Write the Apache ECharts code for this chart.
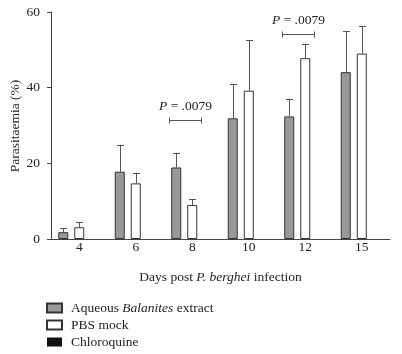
<!DOCTYPE html>
<html>
<head>
<meta charset="utf-8">
<script src="https://cdn.jsdelivr.net/npm/echarts@6/dist/echarts.min.js"></script>
<style>
  html, body { margin: 0; padding: 0; background: #fff; }
  #chart { width: 402px; height: 354px; }
</style>
</head>
<body>
<div id="chart"></div>
<script>
// 数据
var days = ['4', '6', '8', '10', '12', '15']
var extractMean = [1.8, 17.8, 18.9, 31.9, 32.4, 44.1]
var extractErr = [1.0, 7.1, 3.9, 9.0, 4.7, 10.9]
var pbsMean = [3.1, 14.7, 9.0, 39.2, 47.8, 49.0]
var pbsErr = [1.3, 2.8, 1.5, 13.4, 3.8, 7.2]
var chloroquineMean = [0, 0, 0, 0, 0, 0]
var yTicks = [0, 20, 40, 60]
// 显著性标注: [天数下标, 高度, 文字]
var pMarks = [[2, 31.5, '.0079'], [4, 54.2, '.0079']]

var serif = '"Liberation Serif", "DejaVu Serif", serif'
var axisColor = '#444'
var fs = 13.5

// 误差线
function errorSeries(name, mean, err, offset) {
  return {
    name: name + ' err',
    type: 'custom',
    silent: true,
    z: 1,
    renderItem: function (params, api) {
      var top = api.coord([api.value(0), api.value(1) + api.value(2)])
      var base = api.coord([api.value(0), api.value(1)])
      var x = Math.round(top[0] + offset) + 0.5
      var style = { stroke: '#555', lineWidth: 1 }
      return {
        type: 'group',
        children: [
          { type: 'line', shape: { x1: x, y1: base[1], x2: x, y2: top[1] }, style: style },
          { type: 'line', shape: { x1: x - 3.5, y1: Math.round(top[1]) + 0.5, x2: x + 3.5, y2: Math.round(top[1]) + 0.5 }, style: style }
        ]
      }
    },
    data: mean.map(function (m, i) { return [i, m, err[i]] })
  }
}

var chart = echarts.init(document.getElementById('chart'))

chart.setOption({
  animation: false,
  textStyle: { fontFamily: serif },
  grid: { left: 51, right: 12, top: 12, bottom: 115, outerBoundsMode: 'none' },
  // y 轴标题
  graphic: [{
    type: 'text',
    x: 15,
    y: 126,
    rotation: Math.PI / 2,
    style: {
      text: 'Parasitaemia (%)',
      align: 'center',
      verticalAlign: 'middle',
      font: fs + 'px ' + serif,
      fill: '#222'
    }
  }],
  legend: {
    orient: 'vertical',
    left: 46,
    top: 301,
    padding: 0,
    itemWidth: 15,
    itemHeight: 9,
    itemGap: 3,
    icon: 'rect',
    data: ['Aqueous Balanites extract', 'PBS mock', 'Chloroquine'],
    formatter: function (n) {
      if (n === 'Aqueous Balanites extract') return 'Aqueous {i|Balanites} extract'
      return n
    },
    textStyle: {
      fontFamily: serif, fontSize: fs, color: '#222', padding: [0, 0, 0, 4],
      rich: { i: { fontFamily: serif, fontSize: fs, fontStyle: 'italic', color: '#222' } }
    }
  },
  xAxis: {
    type: 'category',
    data: days,
    axisLine: { lineStyle: { color: axisColor, width: 1 } },
    axisTick: { alignWithLabel: true, length: 4, lineStyle: { color: axisColor } },
    axisLabel: { color: '#222', fontSize: fs, margin: 1 },
    name: 'Days post {i|P. berghei} infection',
    nameLocation: 'middle',
    nameGap: 31,
    nameTextStyle: {
      color: '#222', fontSize: fs,
      rich: { i: { fontStyle: 'italic', fontSize: fs, color: '#222', fontFamily: serif } }
    }
  },
  yAxis: {
    type: 'value',
    min: 0,
    max: 60,
    interval: 20,
    axisLine: { show: true, lineStyle: { color: axisColor, width: 1 } },
    axisTick: { show: true, length: 4, lineStyle: { color: axisColor } },
    axisLabel: {
      color: '#222', fontSize: fs, margin: 11,
      formatter: function (v) { return yTicks.indexOf(v) >= 0 ? String(v) : '' }
    },
    splitLine: { show: false }
  },
  series: [
    {
      name: 'Aqueous Balanites extract',
      type: 'bar',
      barWidth: 10,
      barGap: '60%',
      z: 2,
      itemStyle: { color: '#999', borderColor: '#333', borderWidth: 1 },
      data: extractMean
    },
    {
      name: 'PBS mock',
      type: 'bar',
      barWidth: 10,
      barGap: '60%',
      z: 2,
      itemStyle: { color: '#fff', borderColor: '#333', borderWidth: 1 },
      data: pbsMean
    },
    {
      name: 'Chloroquine',
      type: 'bar',
      barWidth: 10,
      barGap: '60%',
      z: 2,
      itemStyle: { color: '#111', borderColor: '#111', borderWidth: 0 },
      data: chloroquineMean
    },
    errorSeries('extract', extractMean, extractErr, -16),
    errorSeries('pbs', pbsMean, pbsErr, 0),
    {
      name: 'p values',
      type: 'custom',
      silent: true,
      renderItem: function (params, api) {
        var p = api.coord([api.value(0), api.value(1)])
        var y = Math.round(p[1]) + 0.5
        var x1 = Math.round(p[0] - 23) + 0.5
        var x2 = Math.round(p[0] + 9) + 0.5
        var style = { stroke: '#555', lineWidth: 1 }
        return {
          type: 'group',
          children: [
            { type: 'line', shape: { x1: x1, y1: y, x2: x2, y2: y }, style: style },
            { type: 'line', shape: { x1: x1, y1: y - 3, x2: x1, y2: y + 3 }, style: style },
            { type: 'line', shape: { x1: x2, y1: y - 3, x2: x2, y2: y + 3 }, style: style },
            {
              type: 'text',
              x: (x1 + x2) / 2,
              y: y - 14,
              style: {
                text: '{i|P} = ' + pMarks[params.dataIndex][2],
                align: 'center',
                verticalAlign: 'middle',
                font: fs + 'px ' + serif,
                fill: '#222',
                rich: { i: { fontStyle: 'italic', fontSize: fs, fontFamily: serif, fill: '#222' } }
              }
            }
          ]
        }
      },
      data: pMarks.map(function (m) { return [m[0], m[1]] })
    }
  ]
})
</script>
</body>
</html>
